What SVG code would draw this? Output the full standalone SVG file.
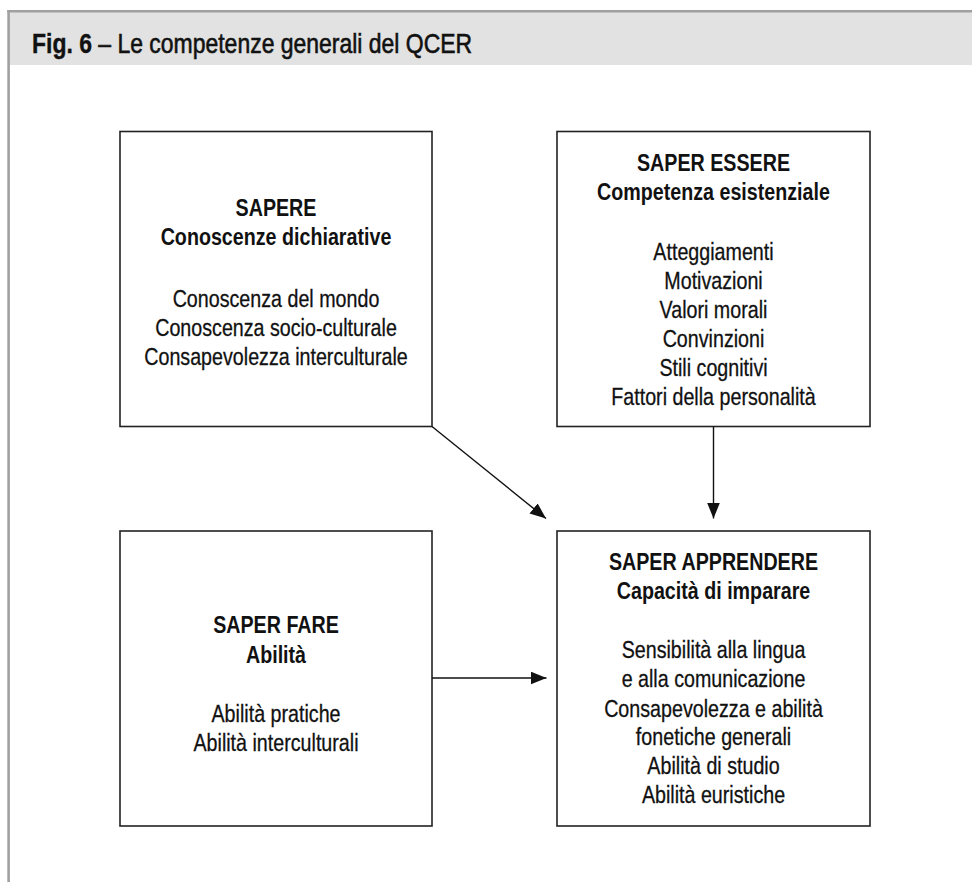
<svg xmlns="http://www.w3.org/2000/svg" width="972" height="882" viewBox="0 0 972 882">
  <style>
    text { font-family: "Liberation Sans", Arial, sans-serif; fill: #111; }
    .title { font-size: 28px; stroke: #111; stroke-width: 0.6; }
    .title .fig { stroke-width: 0.4; }
    .head { font-size: 24px; font-weight: bold; text-anchor: middle; }
    .item { font-size: 24px; text-anchor: middle; stroke: #111; stroke-width: 0.3; }
    .box { fill: #fff; stroke: #222; stroke-width: 1.6; }
    .conn { stroke: #111; stroke-width: 1.4; fill: none; marker-end: url(#arrow); }
  </style>
  <defs>
    <marker id="arrow" markerUnits="userSpaceOnUse" markerWidth="17" markerHeight="14" refX="16" refY="6.5" orient="auto">
      <path d="M0,0 L16,6.5 L0,13 Z" fill="#111"/>
    </marker>
  </defs>

  <!-- page frame and header band -->
  <rect x="0" y="0" width="972" height="882" fill="#fff"/>
  <rect x="10" y="12" width="962" height="53" fill="#e1e2e1"/>
  <line x1="7.3" y1="11.3" x2="972" y2="11.3" stroke="#a0a0a0" stroke-width="2.6"/>
  <line x1="8.6" y1="10" x2="8.6" y2="882" stroke="#a0a0a0" stroke-width="2.6"/>
  <!-- text is set in a horizontally condensed sans (x scaled to 0.82) -->
  <g transform="matrix(0.82 0 0 1 32 0)">
    <text class="title" x="0" y="53"><tspan class="fig" font-weight="bold">Fig. 6</tspan> – Le competenze generali del QCER</text>
  </g>

  <!-- SAPERE -->
  <g id="sapere">
    <rect class="box" x="120" y="131.5" width="312" height="295"/>
    <g transform="matrix(0.82 0 0 1 276 0)">
      <text class="head" x="0" y="216">SAPERE</text>
      <text class="head" x="0" y="245">Conoscenze dichiarative</text>
      <text class="item" x="0" y="306.7">Conoscenza del mondo</text>
      <text class="item" x="0" y="336">Conoscenza socio-culturale</text>
      <text class="item" x="0" y="365">Consapevolezza interculturale</text>
    </g>
  </g>

  <!-- SAPER ESSERE -->
  <g id="saper-essere">
    <rect class="box" x="557" y="131.5" width="313" height="295"/>
    <g transform="matrix(0.82 0 0 1 713.5 0)">
      <text class="head" x="0" y="171">SAPER ESSERE</text>
      <text class="head" x="0" y="200">Competenza esistenziale</text>
      <text class="item" x="0" y="260">Atteggiamenti</text>
      <text class="item" x="0" y="289.3">Motivazioni</text>
      <text class="item" x="0" y="318.3">Valori morali</text>
      <text class="item" x="0" y="347.3">Convinzioni</text>
      <text class="item" x="0" y="376">Stili cognitivi</text>
      <text class="item" x="0" y="405">Fattori della personalità</text>
    </g>
  </g>

  <!-- SAPER FARE -->
  <g id="saper-fare">
    <rect class="box" x="120" y="531" width="312" height="295"/>
    <g transform="matrix(0.82 0 0 1 276 0)">
      <text class="head" x="0" y="633.3">SAPER FARE</text>
      <text class="head" x="0" y="662.7">Abilità</text>
      <text class="item" x="0" y="721.7">Abilità pratiche</text>
      <text class="item" x="0" y="750.7">Abilità interculturali</text>
    </g>
  </g>

  <!-- SAPER APPRENDERE -->
  <g id="saper-apprendere">
    <rect class="box" x="557" y="531" width="313" height="295"/>
    <g transform="matrix(0.82 0 0 1 713.5 0)">
      <text class="head" x="0" y="570">SAPER APPRENDERE</text>
      <text class="head" x="0" y="599">Capacità di imparare</text>
      <text class="item" x="0" y="658.3">Sensibilità alla lingua</text>
      <text class="item" x="0" y="687.3">e alla comunicazione</text>
      <text class="item" x="0" y="716.7">Consapevolezza e abilità</text>
      <text class="item" x="0" y="745">fonetiche generali</text>
      <text class="item" x="0" y="774.3">Abilità di studio</text>
      <text class="item" x="0" y="803.3">Abilità euristiche</text>
    </g>
  </g>

  <!-- connectors -->
  <g id="connectors">
    <line class="conn" x1="432" y1="426.5" x2="546" y2="518.5"/>
    <line class="conn" x1="713.5" y1="426.5" x2="713.5" y2="518.5"/>
    <line class="conn" x1="432" y1="678" x2="546.5" y2="678"/>
  </g>
</svg>
